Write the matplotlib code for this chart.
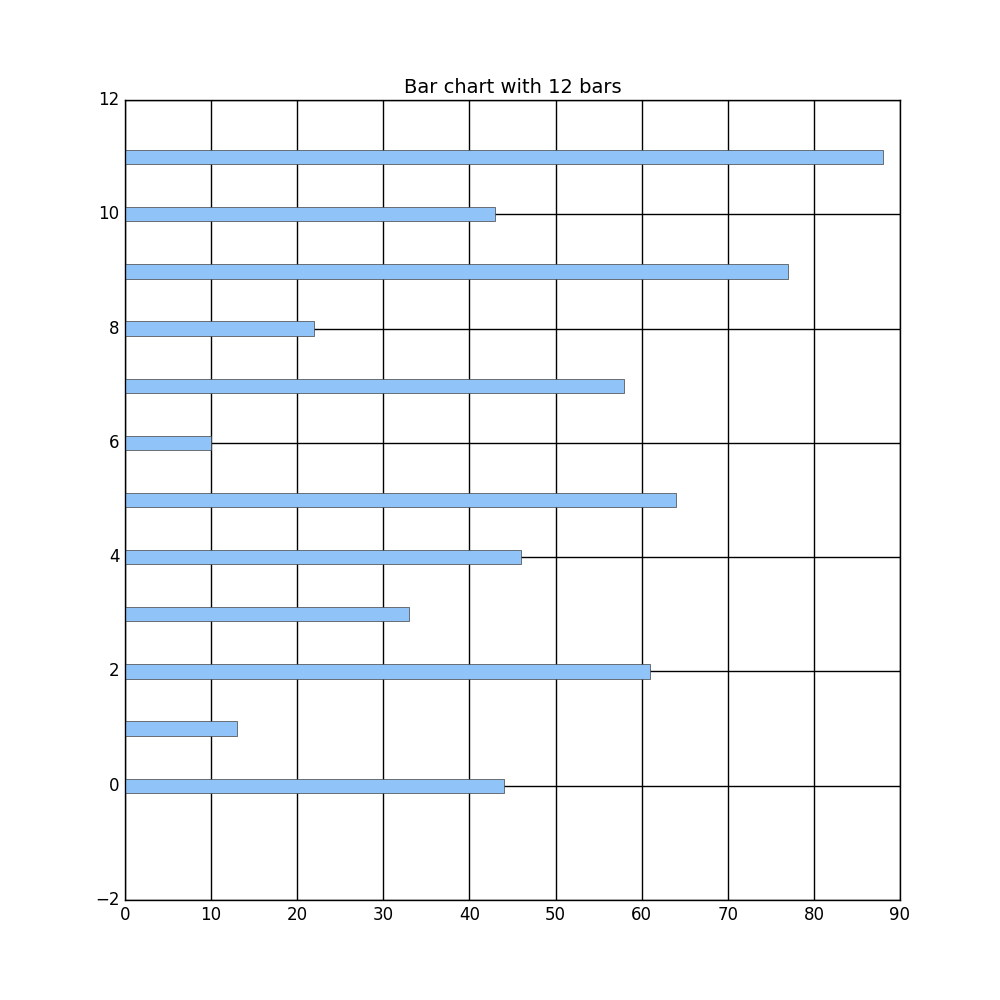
import matplotlib
matplotlib.use('Agg')
import matplotlib.pyplot as plt

plt.style.use('classic')

positions = list(range(12))
values = [44, 13, 61, 33, 46, 64, 10, 58, 22, 77, 43, 88]

fig = plt.figure(figsize=(10, 10), dpi=100)
fig.patch.set_facecolor('white')
ax = fig.add_subplot(111)
ax.barh(positions, values, height=0.25, color='#90c3f8', edgecolor='#404040', linewidth=0.5)
ax.set_xlim(0, 90)
ax.set_ylim(-2, 12)
ax.grid(True, color='black', linestyle='-', linewidth=1)
ax.set_axisbelow(True)
ax.set_title('Bar chart with 12 bars', fontsize=14)
fig.savefig('out.png', dpi=100, facecolor='white')
